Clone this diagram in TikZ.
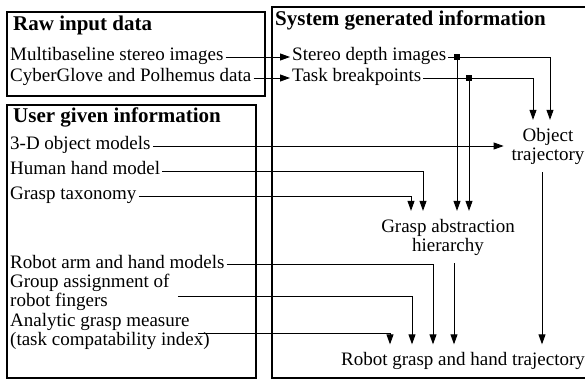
\documentclass[tikz,border=0pt]{standalone}
\usepackage{fontspec}
\setmainfont{Liberation Serif}
\usetikzlibrary{arrows.meta}

\begin{document}
\begin{tikzpicture}[x=1pt,y=-1pt,
  lbl/.style={anchor=west,inner sep=2pt,text height=12pt,text depth=4pt,font=\fontsize{19}{20}\selectfont},
  hd/.style={anchor=west,inner sep=0pt,font=\fontsize{21}{24}\selectfont\bfseries},
  blk/.style={align=center,inner sep=2pt,outer sep=6pt,font=\fontsize{19}{19}\selectfont},
  arr/.style={-{Triangle[length=10pt,width=7pt]},line width=0.9pt},
  sq/.style={fill,inner sep=0pt,minimum size=6pt}]
\useasboundingbox (0,0) rectangle (585,379);
% the three frames
\draw[line width=1.6pt] (7,12) rectangle (265,96);
\draw[line width=1.6pt] (7,105) rectangle (256,378);
\draw[line width=1.6pt] (587,7) -- (272,7) -- (272,378) -- (587,378);
\node[hd] (raw) at (13,25) {Raw input data};
\node[hd] (usr) at (13,117) {User given information};
\node[hd] (sys) at (275,20) {System generated information};
% inputs
\node[lbl] (msi) at (8,57) {Multibaseline stereo images};
\node[lbl] (cgp) at (8,78) {CyberGlove and Polhemus data};
\node[lbl] (odm) at (8,146) {3-D object models};
\node[lbl] (hhm) at (8,171) {Human hand model};
\node[lbl] (gtx) at (8,196) {Grasp taxonomy};
\node[lbl] (ram) at (8,264) {Robot arm and hand models};
\node[lbl] (gaf) at (8,283) {Group assignment of};
\node[lbl] (gafb) at (8,302) {robot fingers};
\node[lbl] (agm) at (8,322) {Analytic grasp measure};
\node[lbl] (agmb) at (8,341) {(task compatability index)};
% generated
\node[lbl] (sdi) at (290,57) {Stereo depth images};
\node[lbl] (tbp) at (290,78) {Task breakpoints};
\node[blk] (obj) at (548,146) {Object\\trajectory};
\node[blk] (gah) at (448,237) {Grasp abstraction\\hierarchy};
\node[blk] (rgh) at (463,361) {Robot grasp and hand trajectory};
\node[sq] (sj) at (457,57) {};
\node[sq] (tj) at (469,78) {};
% flows
\draw[arr] (msi.east) -- (sdi.west);
\draw[arr] (cgp.east) -- (tbp.west);
\draw[arr] (sdi.east) -| ([xshift=2pt]obj.north);
\draw[arr] (tbp.east) -| ([xshift=-15pt]obj.north);
\draw[arr] (odm.east) -- (obj.west |- odm.east);
\draw[arr] (sj) -- (sj |- gah.north);
\draw[arr] (tj) -- (tj |- gah.north);
\draw[arr] (hhm.east) -| ([xshift=-25pt]gah.north);
\draw[arr] (gtx.east) -| ([xshift=-37pt]gah.north);
\draw[arr] (ram.east) -| ([xshift=-30pt]rgh.north);
\draw[arr] ([shift={(6pt,-3pt)}]gaf.south east) -| ([xshift=-51pt]rgh.north);
\draw[arr] ([shift={(6pt,-1pt)}]agm.south east) -| ([xshift=-73pt]rgh.north);
\draw[arr] ([xshift=6pt]gah.south) -- ([xshift=6pt]gah.south |- rgh.north);
\draw[arr] ([xshift=-6pt]obj.south) -- ([xshift=-6pt]obj.south |- rgh.north);
\end{tikzpicture}
\end{document}
